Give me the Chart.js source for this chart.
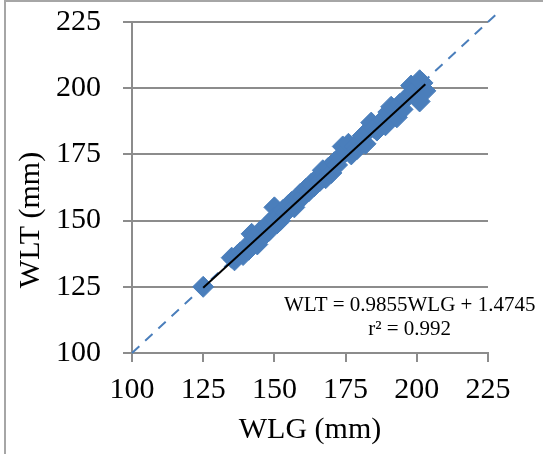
<!DOCTYPE html>
<html>
<head>
<meta charset="utf-8">
<script src="https://cdn.jsdelivr.net/npm/chart.js"></script>
<style>
  body { margin: 0; background: #fff; }
  #wrap { position: relative; width: 543px; height: 454px; }
  #frame { position: absolute; left: 4px; top: 0; right: 0; bottom: 0;
           border-left: 2px solid #a6a6a6; border-top: 2px solid #a6a6a6; pointer-events: none; }
</style>
</head>
<body>
<div id="wrap">
  <canvas id="myChart" width="543" height="454"></canvas>
  <div id="frame"></div>
</div>
<script>
    // measured values, WLG vs WLT (mm)
    const wlg = [125, 135, 136, 137, 138, 139, 140, 141, 142, 143, 144, 145, 145, 146, 147, 148, 148, 149,
                 150, 150, 151, 152, 152, 153, 154, 155, 156, 157, 158, 159, 160, 161, 162, 163, 164, 165,
                 166, 167, 168, 169, 170, 171, 172, 173, 174, 175, 176, 177, 178, 179, 180, 181, 182, 183,
                 184, 185, 186, 188, 189, 190, 191, 192, 193, 194, 195, 196, 198, 199, 200, 201, 202, 203, 201];
    const wlt = [125, 136, 135, 137, 138, 137, 140, 139, 145, 144, 141, 143, 146, 144, 147, 146, 149, 148,
                 155, 151, 149, 152, 150, 154, 153, 156, 157, 155, 158, 160, 159, 162, 161, 164, 163, 166,
                 165, 169, 166, 170, 168, 172, 171, 174, 178, 176, 179, 175, 178, 177, 180, 182, 179, 184,
                 187, 185, 184, 188, 186, 191, 193, 192, 189, 194, 192, 196, 201, 198, 200, 195, 202, 199, 203];

    // fitted line WLT = 0.9855WLG + 1.4745
    const slope = 0.9855;
    const intercept = 1.4745;
    const fitX = [125, 203];
    const oneToOne = [100, 228];
    const ticks = [100, 125, 150, 175, 200, 225];

    const blue = '#4a7ebb';
    const grey = '#8c8c8c';
    const serif = 'Liberation Serif';

    const points = wlg.map((x, i) => ({ x: x, y: wlt[i] }));
    const fitLine = fitX.map(x => ({ x: x, y: slope * x + intercept }));
    const refLine = oneToOne.map(v => ({ x: v, y: v }));

    // y title + equation text
    const textPlugin = {
        id: 'texts',
        afterDraw(chart) {
            const c = chart.ctx;
            const xs = chart.scales.x, ys = chart.scales.y;
            c.save();
            c.fillStyle = '#000';
            c.textAlign = 'center';
            c.textBaseline = 'middle';
            c.font = '30px ' + serif;
            c.translate(31, 220);
            c.rotate(-Math.PI / 2);
            c.fillText('WLT (mm)', 0, 0);
            c.restore();

            c.save();
            c.fillStyle = '#000';
            c.textAlign = 'center';
            c.textBaseline = 'middle';
            c.font = '21px ' + serif;
            const ex = xs.getPixelForValue(197.5);
            c.fillText('WLT = 0.9855WLG + 1.4745', ex, ys.getPixelForValue(118));
            c.fillText('r\u00b2 = 0.992', ex, ys.getPixelForValue(108.7));
            c.restore();
        }
    };

    new Chart(document.getElementById('myChart'), {
        type: 'scatter',
        data: {
            datasets: [
                {
                    type: 'line',
                    data: fitLine,
                    borderColor: '#000',
                    borderWidth: 2,
                    pointRadius: 0,
                    order: 1
                },
                {
                    type: 'line',
                    data: refLine,
                    borderColor: blue,
                    borderWidth: 2,
                    borderDash: [10, 8],
                    pointRadius: 0,
                    clip: false,
                    order: 2
                },
                {
                    data: points,
                    pointStyle: 'rectRot',
                    pointRadius: 10.5,
                    backgroundColor: blue,
                    borderColor: blue,
                    borderWidth: 1,
                    order: 3
                }
            ]
        },
        options: {
            responsive: false,
            animation: false,
            layout: { padding: { top: 22, right: 55, left: 0, bottom: 0 } },
            plugins: { legend: { display: false }, tooltip: { enabled: false } },
            scales: {
                x: {
                    type: 'linear',
                    min: 100, max: 225,
                    afterBuildTicks: s => { s.ticks = ticks.map(v => ({ value: v })); },
                    afterFit: s => { s.height = 101; s.paddingLeft = 0; s.paddingRight = 0; },
                    grid: { drawOnChartArea: false, color: grey, lineWidth: 2, tickLength: 9 },
                    border: { color: grey, width: 2 },
                    ticks: { color: '#000', font: { family: serif, size: 30 }, padding: 10, maxRotation: 0 },
                    title: { display: true, text: 'WLG (mm)', color: '#000',
                             font: { family: serif, size: 30 }, padding: { top: 0, bottom: 6 } }
                },
                y: {
                    min: 100, max: 225,
                    afterBuildTicks: s => { s.ticks = ticks.map(v => ({ value: v })); },
                    afterFit: s => { s.width = 132; s.paddingTop = 0; s.paddingBottom = 0; },
                    grid: { color: grey, lineWidth: 2, tickLength: 9 },
                    border: { color: grey, width: 2 },
                    ticks: { color: '#000', font: { family: serif, size: 30 }, padding: 22 }
                }
            }
        },
        plugins: [textPlugin]
    });
</script>
</body>
</html>
